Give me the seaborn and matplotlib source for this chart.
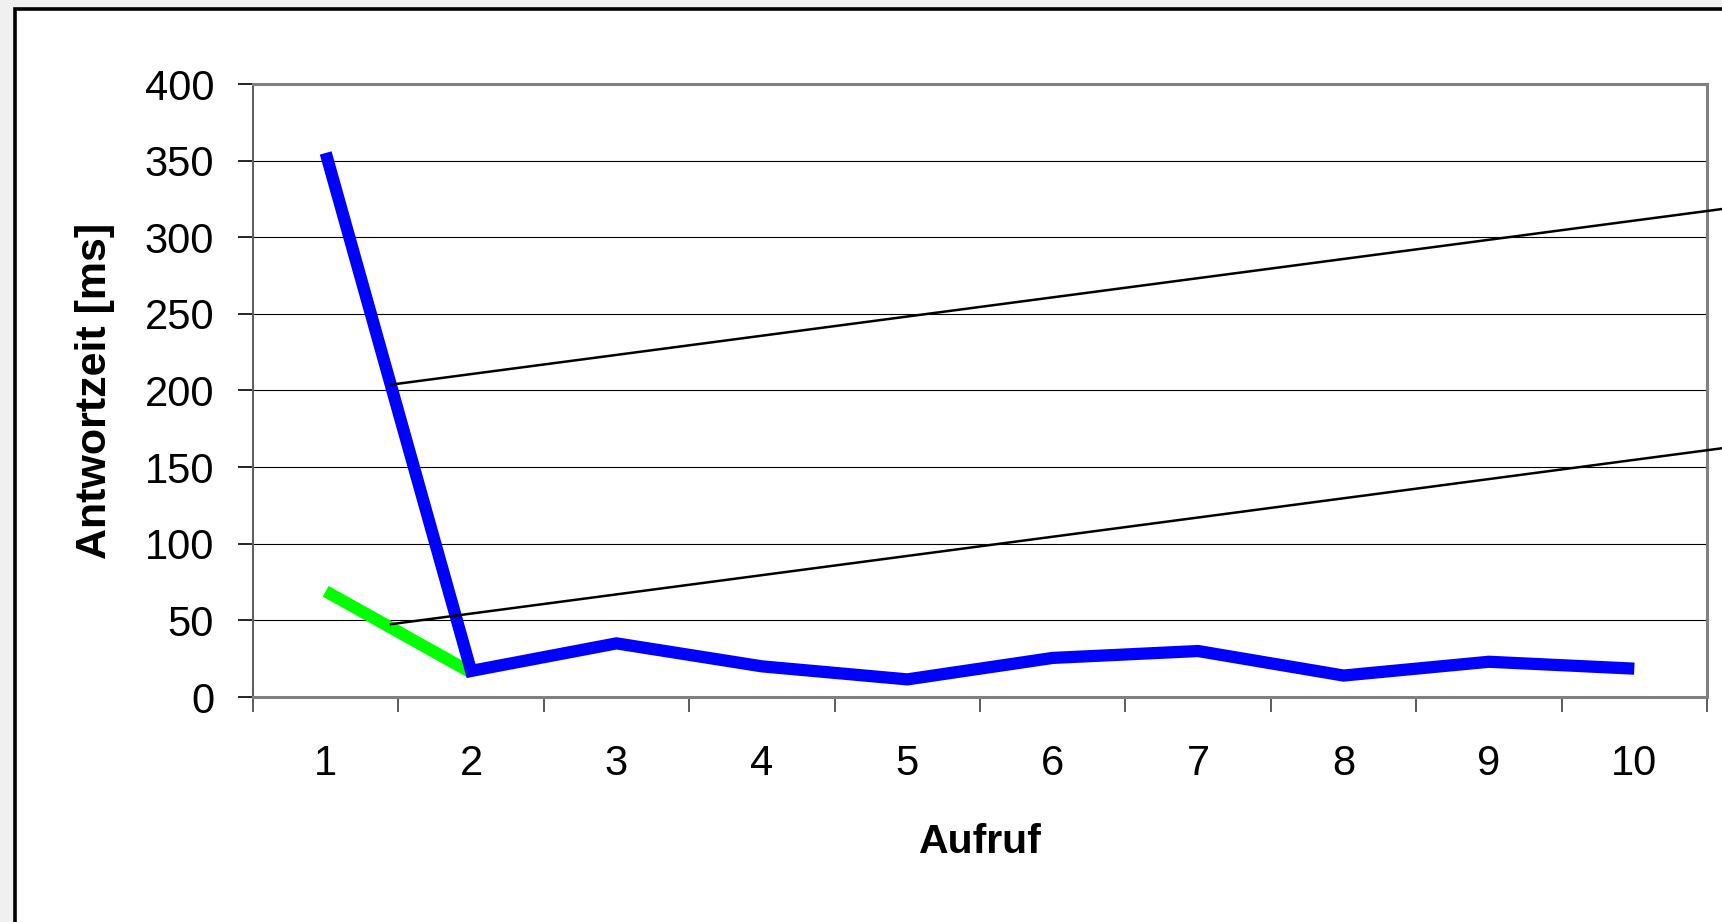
import matplotlib
matplotlib.use("Agg")
import matplotlib.pyplot as plt
from matplotlib.patches import Rectangle
import numpy as np
import pandas as pd
import seaborn as sns

# Response times per call
aufruf = list(range(1, 11))
antwortzeit_blau = [355, 17, 35, 20, 11.5, 25.5, 30, 14, 23, 18.5]
aufruf_gruen = [1, 2]
antwortzeit_gruen = [69, 16]

# Two straight connector lines running out past the right edge
linie_oben_x = [1.44, 10.65]
linie_oben_y = [203.7, 319.0]
linie_unten_x = [1.44, 10.65]
linie_unten_y = [47.4, 162.9]

y_ticks = list(range(0, 401, 50))

sns.set_style("white")
plt.rcParams["font.family"] = ["Liberation Sans", "DejaVu Sans"]
plt.rcParams.update({"text.color": "black", "axes.labelcolor": "black",
                     "xtick.color": "black", "ytick.color": "black"})

W, H = 1722, 922
fig = plt.figure(figsize=(W / 100, H / 100), dpi=100)
fig.patch.set_facecolor("#f0f0f0")

# white chart area with black frame
fig.patches.append(Rectangle((15 / W, -0.2), 1.3, (H - 9) / H + 0.2,
                             transform=fig.transFigure, facecolor="white",
                             edgecolor="black", linewidth=2.6, zorder=-10))

ax = fig.add_axes([253 / W, (H - 697) / H, 1454 / W, 613 / H])
ax.set_zorder(1)
ax.set_facecolor("white")

df_blau = pd.DataFrame({"Aufruf": aufruf, "Antwortzeit": antwortzeit_blau})
df_gruen = pd.DataFrame({"Aufruf": aufruf_gruen, "Antwortzeit": antwortzeit_gruen})

sns.lineplot(data=df_gruen, x="Aufruf", y="Antwortzeit", ax=ax, color="#00ff00",
             linewidth=8.8, solid_capstyle="butt", solid_joinstyle="miter", zorder=3)
sns.lineplot(data=df_blau, x="Aufruf", y="Antwortzeit", ax=ax, color="#0000ff",
             linewidth=8.8, solid_capstyle="butt", solid_joinstyle="miter", zorder=4)

ax.plot(linie_oben_x, linie_oben_y, color="black", linewidth=1.8,
        clip_on=False, zorder=5, solid_capstyle="butt")
ax.plot(linie_unten_x, linie_unten_y, color="black", linewidth=1.8,
        clip_on=False, zorder=5, solid_capstyle="butt")

ax.set_xlim(0.5, 10.5)
ax.set_ylim(0, 400)

# y axis
ax.set_yticks(y_ticks)
ax.set_yticklabels([str(v) for v in y_ticks])
ax.yaxis.grid(True, color="black", linewidth=0.8)
ax.set_axisbelow(True)
ax.tick_params(axis="y", which="major", direction="out", length=11, width=1.2,
               color="black", labelcolor="black", labelsize=30, pad=17, left=True)

# category x axis: ticks between categories, labels at centres
ax.set_xticks(np.arange(0.5, 11, 1.0))
ax.set_xticklabels([])
ax.set_xticks(aufruf, minor=True)
ax.set_xticklabels([str(v) for v in aufruf], minor=True)
ax.tick_params(axis="x", which="major", direction="out", length=11, width=1.2,
               color="#404040", bottom=True)
ax.tick_params(axis="x", which="minor", length=0, labelsize=30, labelcolor="black", pad=34)
ax.xaxis.grid(False)

for name, sp in ax.spines.items():
    sp.set_visible(True)
    sp.set_color("#808080")
    sp.set_linewidth(2.2)
ax.spines["left"].set_color("#606060")
ax.spines["left"].set_linewidth(1.5)

ax.set_xlabel("Aufruf", fontsize=29.5, fontweight="bold", color="black")
ax.set_ylabel("Antwortzeit [ms]", fontsize=31, fontweight="bold", color="black")
ax.xaxis.set_label_coords(0.5, -0.205)
ax.yaxis.set_label_coords(-0.0946, 0.5)

fig.savefig("out.png", dpi=100, facecolor=fig.get_facecolor())
